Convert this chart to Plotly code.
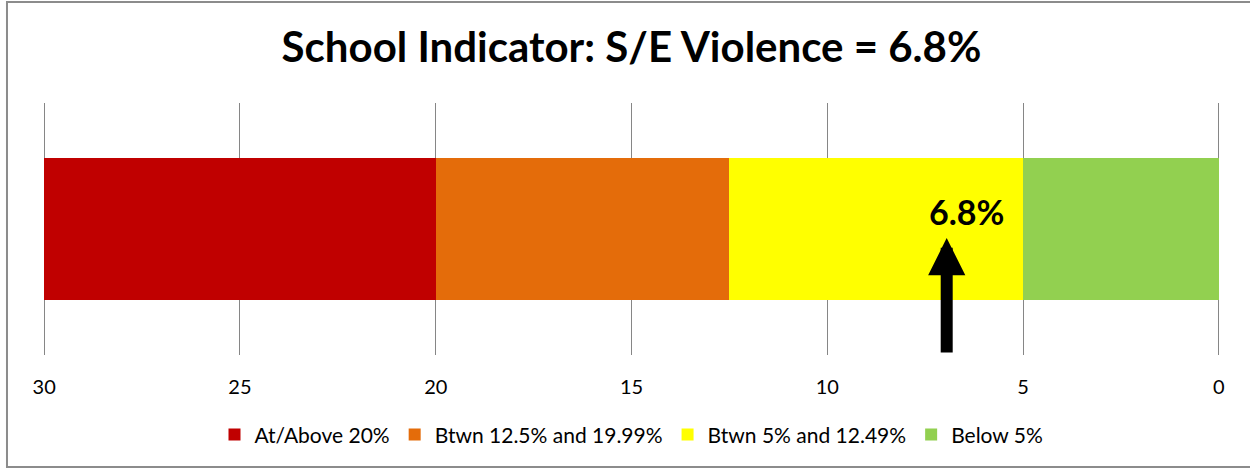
import plotly.graph_objects as go

# bands, drawn from 0 upward on a reversed axis
band_names = ["Below 5%", "Btwn 5% and 12.49%", "Btwn 12.5% and 19.99%", "At/Above 20%"]
band_sizes = [5, 7.5, 7.5, 10]
band_colors = ["#92D050", "#FFFF00", "#E46C0A", "#C00000"]
category = ["S/E Violence"]

score = 6.8
arrow_value = 6.95
tick_values = [0, 5, 10, 15, 20, 25, 30]

FONT = "Lato, Liberation Sans, Arial, sans-serif"

fig = go.Figure()
for name, size, color in zip(band_names, band_sizes, band_colors):
    fig.add_trace(go.Bar(
        y=category, x=[size], name=name, orientation="h",
        marker=dict(color=color, line=dict(width=0)),
        width=0.567, hoverinfo="skip",
    ))

# arrow pointing at the score
fig.add_annotation(
    x=arrow_value, xref="x", y=0.464, yref="paper",
    ax=0, ay=116, axref="pixel", ayref="pixel",
    text="", showarrow=True, arrowhead=2, arrowsize=0.62,
    arrowwidth=12, arrowcolor="black", standoff=0,
)
fig.add_annotation(
    x=score, xref="x", y=0.571, yref="paper", xshift=14,
    text="<b>%.1f%%</b>" % score, showarrow=False,
    font=dict(family=FONT, size=34, color="black"),
    xanchor="center", yanchor="middle",
)

# chart frame: left, top and bottom edges only (right edge is cut off)
fx0, fx1, fy0, fy1 = -0.0306, 1.2, -0.444, 1.4008
fig.add_shape(type="path", xref="paper", yref="paper",
              path=f"M {fx1},{fy1} L {fx0},{fy1} L {fx0},{fy0} L {fx1},{fy0}",
              line=dict(color="#8C8C8C", width=2), fillcolor="rgba(0,0,0,0)",
              layer="below")

fig.update_layout(
    width=1250, height=468,
    margin=dict(l=43, r=30, t=103, b=113),
    paper_bgcolor="white", plot_bgcolor="white",
    barmode="stack", bargap=0,
    title=dict(text="<b>School Indicator: S/E Violence = %.1f%%</b>" % score,
               x=0.5, xanchor="center", xref="paper",
               y=1 - 47 / 468, yanchor="middle",
               font=dict(family=FONT, size=42, color="black")),
    font=dict(family=FONT, size=21, color="black"),
    showlegend=True,
    legend=dict(orientation="h", x=0.5, xanchor="center", y=-0.317, yanchor="middle",
                traceorder="reversed", font=dict(size=21), itemwidth=30),
    xaxis=dict(range=[30.03, -0.03], tickvals=tick_values, showgrid=True,
               gridcolor="#868686", gridwidth=1, zeroline=False, showline=False,
               ticks="outside", ticklen=14, tickcolor="rgba(0,0,0,0)",
               tickfont=dict(size=20), fixedrange=True),
    yaxis=dict(range=[-0.5, 0.5], showticklabels=False, showgrid=False,
               zeroline=False, showline=False, fixedrange=True),
)

# drop the browser's default page margin so the figure sits at the corner
fig.write_html("out.html", config={"displayModeBar": False},
               post_script="document.body.style.margin='0';")
